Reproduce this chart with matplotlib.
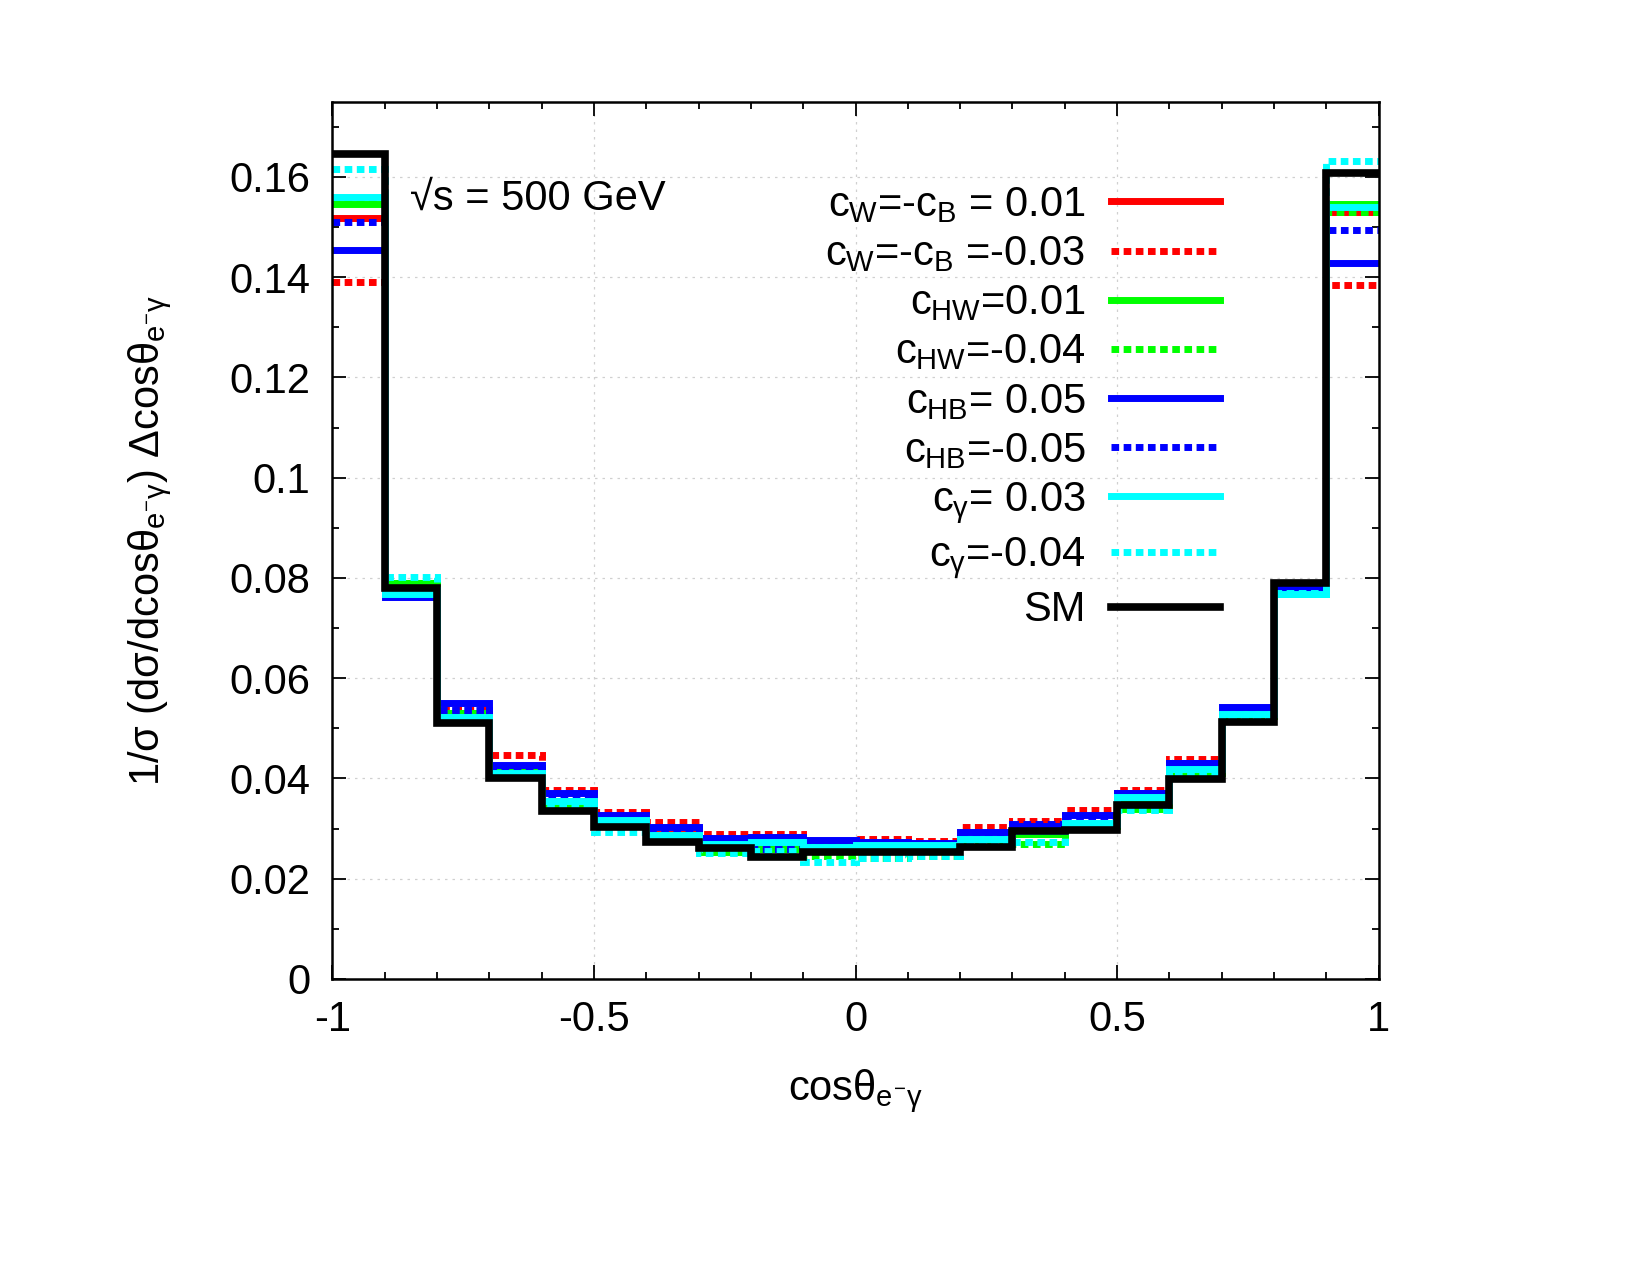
import matplotlib
matplotlib.use("Agg")
import matplotlib.pyplot as plt
from matplotlib.ticker import MultipleLocator, FuncFormatter
import numpy as np

plt.rcParams['font.family'] = ['Liberation Sans', 'DejaVu Sans']
plt.rcParams['mathtext.fontset'] = 'custom'
plt.rcParams['mathtext.rm'] = 'Liberation Sans'
plt.rcParams['mathtext.it'] = 'Liberation Sans'
plt.rcParams['mathtext.bf'] = 'Liberation Sans:bold'

# bin edges of cos(theta_{e- gamma})
edges = np.linspace(-1, 1, 21)

# normalised distributions, one value per bin
cw_p001 = [0.1518, 0.0785, 0.0530, 0.0420, 0.0350, 0.0320, 0.0290, 0.0275, 0.0270, 0.0272,
           0.0270, 0.0270, 0.0280, 0.0290, 0.0310, 0.0360, 0.0420, 0.0530, 0.0775, 0.1530]
cw_m003 = [0.1390, 0.0790, 0.0543, 0.0447, 0.0376, 0.0334, 0.0314, 0.0290, 0.0290, 0.0268,
           0.0280, 0.0276, 0.0304, 0.0316, 0.0338, 0.0376, 0.0439, 0.0530, 0.0775, 0.1384]
chw_p001 = [0.1546, 0.0790, 0.0530, 0.0420, 0.0355, 0.0320, 0.0288, 0.0270, 0.0270, 0.0265,
            0.0268, 0.0268, 0.0280, 0.0290, 0.0310, 0.0360, 0.0418, 0.0530, 0.0767, 0.1546]
chw_m004 = [0.1555, 0.0790, 0.0531, 0.0410, 0.0348, 0.0310, 0.0280, 0.0254, 0.0260, 0.0245,
            0.0242, 0.0245, 0.0275, 0.0270, 0.0305, 0.0340, 0.0410, 0.0525, 0.0770, 0.1530]
chb_p005 = [0.1454, 0.0761, 0.0550, 0.0427, 0.0371, 0.0328, 0.0304, 0.0282, 0.0284, 0.0278,
            0.0274, 0.0272, 0.0294, 0.0306, 0.0328, 0.0371, 0.0430, 0.0543, 0.0777, 0.1428]
chb_m005 = [0.1510, 0.0780, 0.0537, 0.0417, 0.0365, 0.0325, 0.0300, 0.0280, 0.0260, 0.0275,
            0.0272, 0.0270, 0.0290, 0.0310, 0.0325, 0.0370, 0.0430, 0.0540, 0.0780, 0.1494]
cg_p003 = [0.1560, 0.0767, 0.0523, 0.0410, 0.0355, 0.0318, 0.0288, 0.0270, 0.0274, 0.0264,
           0.0268, 0.0268, 0.0280, 0.0295, 0.0312, 0.0362, 0.0418, 0.0529, 0.0767, 0.1540]
cg_m004 = [0.1616, 0.0801, 0.0520, 0.0405, 0.0348, 0.0294, 0.0280, 0.0252, 0.0255, 0.0234,
           0.0242, 0.0245, 0.0270, 0.0274, 0.0310, 0.0338, 0.0411, 0.0520, 0.0770, 0.1632]
sm = [0.1645, 0.0780, 0.0511, 0.0401, 0.0336, 0.0304, 0.0274, 0.0262, 0.0244, 0.0254,
      0.0254, 0.0254, 0.0264, 0.0296, 0.0298, 0.0348, 0.0398, 0.0513, 0.0790, 0.1608]

labels = [r'$c_{W}$=-$c_{B}$ = 0.01', r'$c_{W}$=-$c_{B}$ =-0.03',
          r'$c_{HW}$=0.01', r'$c_{HW}$=-0.04',
          r'$c_{HB}$= 0.05', r'$c_{HB}$=-0.05',
          r'$c_{\gamma}$= 0.03', r'$c_{\gamma}$=-0.04', 'SM']
series = [cw_p001, cw_m003, chw_p001, chw_m004, chb_p005, chb_m005, cg_p003, cg_m004, sm]
colors = ['#ff0000', '#ff0000', '#00ff00', '#00ff00', '#0000ff', '#0000ff',
          '#00ffff', '#00ffff', '#000000']
dashed = [False, True, False, True, False, True, False, True, False]

fig = plt.figure(figsize=(16.5, 12.75), dpi=100)
ax = fig.add_axes([0.2015, 0.2322, 0.634, 0.688])

for vals, lab, c, d in zip(series, labels, colors, dashed):
    ls = (0, (1.1, 0.65)) if d else '-'
    lw = 5.5 if lab == 'SM' else 5
    ax.stairs(vals, edges, baseline=None, color=c, lw=lw, linestyle=ls, label=lab)

ax.set_xlim(-1, 1)
ax.set_ylim(0, 0.175)
ax.xaxis.set_major_locator(MultipleLocator(0.5))
ax.xaxis.set_minor_locator(MultipleLocator(0.1))
ax.yaxis.set_major_locator(MultipleLocator(0.02))
ax.yaxis.set_minor_locator(MultipleLocator(0.01))
fmt = FuncFormatter(lambda v, p: '%g' % round(v, 4))
ax.xaxis.set_major_formatter(fmt)
ax.yaxis.set_major_formatter(fmt)
ax.tick_params(which='both', direction='in', top=True, right=True, labelsize=30)
ax.tick_params(which='major', length=10, width=1.3)
ax.tick_params(which='minor', length=5, width=1.3)
ax.tick_params(axis='x', pad=15)
ax.tick_params(axis='y', pad=16)
for s in ax.spines.values():
    s.set_linewidth(1.8)
ax.grid(True, which='major', color='#d0d0d0', linestyle=(0, (2, 4)), lw=0.9)
ax.set_axisbelow(True)

ax.set_xlabel(r'cos$\theta_{e^{-}\gamma}$', fontsize=30, labelpad=20)
ax.set_ylabel(r'1/$\sigma$ (d$\sigma$/dcos$\theta_{e^{-}\gamma}$) $\Delta$cos$\theta_{e^{-}\gamma}$',
              fontsize=30, labelpad=40)

ax.text(-0.852, 0.1556, '\u221as = 500 GeV', fontsize=30, ha='left', va='center')

leg = ax.legend(loc='upper right', bbox_to_anchor=(0.864, 0.924), frameon=False,
                markerfirst=False, fontsize=30, handlelength=2.6, handletextpad=0.62,
                labelspacing=0.22, borderaxespad=0)

fig.savefig('out.png', dpi=100)
